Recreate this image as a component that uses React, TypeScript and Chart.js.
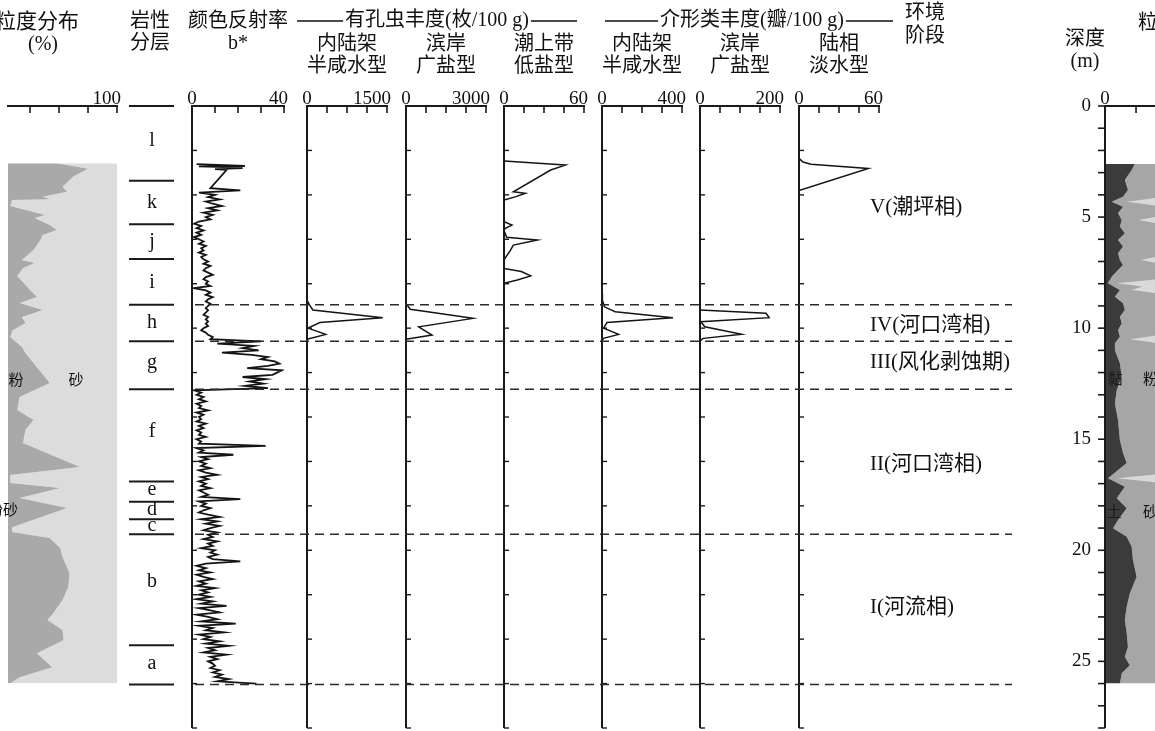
import React, { useEffect, useRef } from "react";
import { Chart, registerables } from "chart.js";

Chart.register(...registerables);

const W = 1155;
const H = 731;
const PLOT_TOP = 106;
const PLOT_BOTTOM = 728;
const DEPTH_MIN = 0;
const DEPTH_MAX = 28;
const FONT = '"Liberation Serif", "Noto Sans CJK SC", serif';
const INK = "#141414";

// ---------- depth axis ----------
const depthMajor = [0, 5, 10, 15, 20, 25];

// ---------- lithology ----------
const lithoBounds = [0, 3.36, 5.32, 6.89, 8.95, 10.59, 12.75, 16.9, 17.82, 18.6, 19.28, 24.28, 26.04];
const lithoLabels = ["l", "k", "j", "i", "h", "g", "f", "e", "d", "c", "b", "a"];
const lithoLabelDepths = [1.55, 4.37, 6.12, 7.97, 9.77, 11.58, 14.68, 17.29, 18.19, 18.91, 21.43, 25.13];

// ---------- environment stages ----------
const stageBounds = [8.95, 10.59, 12.75, 19.28, 26.04];
const stageLabels = ["V(潮坪相)", "IV(河口湾相)", "III(风化剥蚀期)", "II(河口湾相)", "I(河流相)"];
const stageLabelDepths = [4.55, 9.9, 11.53, 16.16, 22.56];

// ---------- grain size (left column, %) ----------
const grainTicks = [25, 50, 75, 100];
const grainDepths = [2.58, 2.82, 3.18, 3.63, 3.86, 4.08, 4.2, 4.23, 4.5, 4.91, 5.04, 5.36, 5.58, 5.81, 6.03, 6.48, 6.93, 7.07, 7.29, 7.65, 8.28, 8.6, 8.87, 9.18, 9.5, 9.77, 10.09, 10.4, 10.85, 11.12, 11.57, 12.47, 13.1, 13.69, 14.14, 14.59, 15.17, 16.25, 16.61, 16.97, 17.2, 17.65, 18.1, 18.96, 19.18, 19.45, 19.9, 20.31, 20.76, 21.03, 21.66, 22.24, 22.83, 23.14, 23.59, 24.04, 24.63, 25.26, 25.71, 25.98];
const grainSilt = [48, 75, 62, 53, 57, 36, 42, 9.5, 8, 38, 29, 42, 48, 36, 34, 28, 18, 29, 19, 14, 25, 31, 16, 36, 18, 21, 10, 8, 18, 21, 28, 42, 16, 14, 28, 21, 19, 68, 8, 8, 51, 16, 57, 9.5, 9.5, 42, 51, 53, 57, 59, 58, 53, 45, 40, 53, 54, 31, 44, 16, 8];

// ---------- grain size (right column, %) ----------
const rightTicks = [25];
const rClayDepths = [2.61, 2.88, 3.33, 3.78, 4.08, 4.31, 4.53, 4.83, 5.13, 5.43, 5.73, 6.03, 6.33, 6.63, 6.93, 7.16, 7.38, 7.69, 7.98, 8.28, 8.59, 8.88, 9.18, 9.49, 9.78, 10.09, 10.39, 10.68, 10.99, 11.58, 12.19, 12.79, 13.39, 14.14, 15.04, 15.62, 16.07, 16.76, 17.14, 17.66, 18.11, 18.64, 19.01, 19.39, 19.84, 20.44, 21.19, 21.94, 22.54, 23.14, 23.74, 24.34, 24.79, 25.17, 25.54, 26.0];
const rClay = [24, 21.5, 16, 18.5, 14.5, 5.4, 14.5, 10.5, 13.5, 12, 16, 10.5, 14.5, 10.5, 12, 14.5, 10.5, 5.4, 2.4, 12, 8, 14.5, 16, 12, 13.5, 10.5, 12, 8, 8, 12, 13.5, 9.5, 8, 10.5, 12, 14.5, 17.5, 2.4, 16, 9.5, 17.5, 10.5, 6.5, 17.5, 21.5, 22.5, 25.5, 20, 17.5, 16, 17.5, 18.5, 16, 20, 13.5, 12];
const rSandDepths = [2.61, 4.11, 4.31, 4.51, 4.95, 5.13, 5.31, 6.75, 6.93, 7.11, 7.78, 7.98, 8.12, 8.28, 8.45, 10.3, 10.5, 10.7, 16.56, 16.76, 16.96, 26.0];
const rSand = [45, 45, 17.5, 45, 45, 27, 45, 45, 29, 45, 45, 9.5, 30, 21.5, 45, 45, 20, 45, 45, 9.5, 45, 45];

// ---------- colour reflectance b* ----------
const bTicks = [0, 10, 20, 30, 40];
const bTopDepths = [2.62, 2.66, 2.7, 2.72, 2.76, 2.8, 2.84, 2.88];
const bTopValues = [2, 14, 23, 3, 16, 22, 10, 15];
const bStartDepth = 3.7;
const bStep = 0.1;
const bValues = [
  8, 21, 3, 10, 7, 12, 6, 9, 13, 7,
  11, 5, 9, 6, 8, 3, 1, 4, 2, 5,
  2, 4, 1, 3, 5, 3, 6, 4, 5, 3,
  6, 4, 5, 7, 5, 8, 6, 5, 7, 9,
  6, 5, 7, 6, 8, 1, 6, 8, 6, 9,
  7, 6, 8, 7, 6, 7, 6, 5, 7, 6,
  7, 6, 7, 5, 4, 6, 7, 9, 8, 30,
  11, 27, 22, 29, 13, 26, 33, 30, 36, 38,
  33, 24, 39, 37, 35, 22, 32, 25, 31, 23,
  33, 1, 4, 2, 5, 3, 6, 2, 4, 3,
  7, 2, 5, 3, 4, 2, 6, 3, 5, 2,
  4, 3, 6, 2, 4, 3, 32, 2, 5, 3,
  18, 4, 7, 3, 6, 4, 8, 3, 6, 11,
  4, 7, 3, 6, 4, 8, 3, 5, 7, 4,
  21, 3, 6, 4, 8, 5, 3, 7, 12, 4,
  11, 6, 12, 8, 5, 11, 7, 9, 5, 11,
  7, 9, 4, 10, 8, 11, 7, 9, 21, 6,
  2, 6, 3, 8, 2, 5, 9, 3, 6, 2,
  10, 4, 7, 3, 8, 2, 9, 4, 15, 3,
  8, 12, 2, 7, 11, 4, 19, 3, 9, 6,
  14, 3, 8, 5, 12, 6, 16, 7, 10, 5,
  15, 8, 11, 7, 9, 10, 8, 12, 9, 13,
  10, 16, 11, 28,
];
const bDepths = bTopDepths.concat(bValues.map((_, i) => Math.round((bStartDepth + i * bStep) * 100) / 100));
const bAll = bTopValues.concat(bValues);

// ---------- foraminifera (ind./100 g) ----------
const foramInnerTicks = [0, 375, 750, 1125, 1500];
const foramInnerDepths = [8.74, 8.96, 9.18, 9.53, 9.75, 10.0, 10.28, 10.5];
const foramInner = [0, 50, 110, 1420, 240, 20, 350, 0];
const foramCoastTicks = [0, 750, 1500, 2250, 3000];
const foramCoastDepths = [8.89, 9.15, 9.56, 9.94, 10.31, 10.5];
const foramCoast = [0, 160, 2510, 475, 975, 0];
const foramSupraTicks = [0, 15, 30, 45, 60];
const foramSupraDepths = [2.48, 2.66, 2.88, 3.86, 3.93, 4.08, 4.23, 5.21, 5.36, 5.51, 5.6, 5.91, 6.03, 6.26, 6.48, 6.93, 7.31, 7.45, 7.65, 7.83, 7.98];
const foramSupra = [0, 46, 35, 7, 16, 9, 0, 0, 6, 1, 0, 2, 25, 7, 5, 0, 0, 13, 20, 10, 0];

// ---------- ostracoda (valves/100 g) ----------
const ostraInnerTicks = [0, 100, 200, 300, 400];
const ostraInnerDepths = [8.43, 8.74, 9.04, 9.26, 9.53, 9.75, 10.0, 10.28, 10.46, 10.57];
const ostraInner = [0, 2, 12, 66, 355, 25, 8, 83, 7, 0];
const ostraCoastTicks = [0, 50, 100, 150, 200];
const ostraCoastDepths = [9.18, 9.33, 9.53, 9.71, 9.94, 10.28, 10.46, 10.57];
const ostraCoast = [0, 165, 173, 2, 12, 104, 8, 0];
const ostraFreshTicks = [0, 15, 30, 45, 60];
const ostraFreshDepths = [2.36, 2.52, 2.62, 2.81, 3.81];
const ostraFresh = [0, 3, 9, 52, 0];

// ---------- helpers ----------
const pts = (depths: number[], values: number[]) => depths.map((d, i) => ({ x: values[i], y: d }));

function trace(depths: number[], values: number[], width = 1.5) {
  return {
    data: pts(depths, values),
    borderColor: INK,
    borderWidth: width,
    pointRadius: 0,
    tension: 0,
    fill: false,
  };
}

function area(depths: number[], values: number[], color: string, to: number) {
  return {
    data: pts(depths, values),
    borderColor: "rgba(0,0,0,0)",
    borderWidth: 0,
    backgroundColor: color,
    pointRadius: 0,
    tension: 0,
    fill: { value: to },
  };
}

type PanelDef = {
  left: number;
  right: number;
  min: number;
  max: number;
  ticks: number[];
  minLabel?: string;
  maxLabel?: string;
  leftAxis: boolean;
  titles: string[];
  datasets: any[];
};

const PANELS: PanelDef[] = [
  {
    left: 8, right: 117, min: 6, max: 100, ticks: grainTicks, maxLabel: "100",
    leftAxis: false, titles: [],
    datasets: [
      area(grainDepths, grainSilt, "#a9a9a9", 6),
      area(grainDepths, grainSilt, "#dcdcdc", 100),
    ],
  },
  {
    left: 1105, right: 1155, min: 0, max: 40.3, ticks: rightTicks, minLabel: "0",
    leftAxis: false, titles: [],
    datasets: [
      area(rClayDepths, rClay, "#3b3b3b", 0),
      area(rSandDepths, rSand, "#d9d9d9", 100),
      area(rClayDepths, rClay, "#a6a6a6", 100),
    ],
  },
  {
    left: 192, right: 284, min: 0, max: 40, ticks: bTicks, minLabel: "0", maxLabel: "40",
    leftAxis: true, titles: [],
    datasets: [trace(bDepths, bAll, 1.8)],
  },
  {
    left: 307, right: 387, min: 0, max: 1500, ticks: foramInnerTicks, minLabel: "0", maxLabel: "1500",
    leftAxis: true, titles: ["内陆架", "半咸水型"],
    datasets: [trace(foramInnerDepths, foramInner)],
  },
  {
    left: 406, right: 486, min: 0, max: 3000, ticks: foramCoastTicks, minLabel: "0", maxLabel: "3000",
    leftAxis: true, titles: ["滨岸", "广盐型"],
    datasets: [trace(foramCoastDepths, foramCoast)],
  },
  {
    left: 504, right: 584, min: 0, max: 60, ticks: foramSupraTicks, minLabel: "0", maxLabel: "60",
    leftAxis: true, titles: ["潮上带", "低盐型"],
    datasets: [trace(foramSupraDepths, foramSupra)],
  },
  {
    left: 602, right: 682, min: 0, max: 400, ticks: ostraInnerTicks, minLabel: "0", maxLabel: "400",
    leftAxis: true, titles: ["内陆架", "半咸水型"],
    datasets: [trace(ostraInnerDepths, ostraInner)],
  },
  {
    left: 700, right: 780, min: 0, max: 200, ticks: ostraCoastTicks, minLabel: "0", maxLabel: "200",
    leftAxis: true, titles: ["滨岸", "广盐型"],
    datasets: [trace(ostraCoastDepths, ostraCoast)],
  },
  {
    left: 799, right: 879, min: 0, max: 60, ticks: ostraFreshTicks, minLabel: "0", maxLabel: "60",
    leftAxis: true, titles: ["陆相", "淡水型"],
    datasets: [trace(ostraFreshDepths, ostraFresh)],
  },
];

function baseOptions(left: number, right: number, min: number, max: number) {
  return {
    indexAxis: "y" as const,
    responsive: false,
    maintainAspectRatio: false,
    animation: false as const,
    events: [] as any[],
    layout: {
      autoPadding: false,
      padding: { left, right: W - right, top: PLOT_TOP, bottom: H - PLOT_BOTTOM },
    },
    scales: {
      x: { type: "linear" as const, min, max, display: false },
      y: { type: "linear" as const, min: DEPTH_MIN, max: DEPTH_MAX, reverse: true, display: false },
    },
    plugins: { legend: { display: false }, tooltip: { enabled: false } },
  };
}

function panelPlugin(p: PanelDef) {
  return {
    id: "panelAxes",
    afterDraw(chart: any) {
      const ctx = chart.ctx as CanvasRenderingContext2D;
      const xs = chart.scales.x;
      const ys = chart.scales.y;
      const top = ys.getPixelForValue(DEPTH_MIN);
      const bottom = ys.getPixelForValue(DEPTH_MAX);
      const x0 = xs.getPixelForValue(p.min);
      const x1 = Math.min(xs.getPixelForValue(p.max), W);
      ctx.save();
      ctx.strokeStyle = "#1a1a1a";
      ctx.lineWidth = 2;
      ctx.beginPath();
      ctx.moveTo(x0 - 1, top);
      ctx.lineTo(x1 + 1, top);
      ctx.stroke();
      ctx.lineWidth = 1.6;
      p.ticks.forEach((t) => {
        const x = xs.getPixelForValue(t);
        ctx.beginPath();
        ctx.moveTo(x, top);
        ctx.lineTo(x, top + 7);
        ctx.stroke();
      });
      if (p.leftAxis) {
        ctx.lineWidth = 2;
        ctx.beginPath();
        ctx.moveTo(x0, top - 1);
        ctx.lineTo(x0, bottom);
        ctx.stroke();
        ctx.lineWidth = 1.4;
        for (let d = DEPTH_MIN + 2; d <= DEPTH_MAX; d += 2) {
          const y = ys.getPixelForValue(d);
          ctx.beginPath();
          ctx.moveTo(x0, y);
          ctx.lineTo(x0 + 5, y);
          ctx.stroke();
        }
      }
      ctx.fillStyle = "#111";
      ctx.font = `19px ${FONT}`;
      ctx.textBaseline = "alphabetic";
      if (p.minLabel) {
        ctx.textAlign = "center";
        ctx.fillText(p.minLabel, x0, 104);
      }
      if (p.maxLabel) {
        ctx.textAlign = "right";
        ctx.fillText(p.maxLabel, xs.getPixelForValue(p.max) + 4, 104);
      }
      if (p.titles.length) {
        ctx.font = `20px ${FONT}`;
        ctx.textAlign = "center";
        ctx.textBaseline = "middle";
        const cx = (x0 + xs.getPixelForValue(p.max)) / 2;
        p.titles.forEach((t, i) => ctx.fillText(t, cx, 45 + i * 22));
      }
      ctx.restore();
    },
  };
}

function text(ctx: CanvasRenderingContext2D, s: string, x: number, y: number, align: CanvasTextAlign = "center", size = 20, color = "#111") {
  ctx.font = `${size}px ${FONT}`;
  ctx.fillStyle = color;
  ctx.textAlign = align;
  ctx.textBaseline = "middle";
  ctx.fillText(s, x, y);
}

function dashedTitle(ctx: CanvasRenderingContext2D, s: string, cx: number, y: number, from: number, to: number) {
  ctx.font = `20px ${FONT}`;
  const w = ctx.measureText(s).width;
  text(ctx, s, cx, y);
  ctx.strokeStyle = "#111";
  ctx.lineWidth = 1.3;
  ctx.beginPath();
  ctx.moveTo(from, y);
  ctx.lineTo(cx - w / 2 - 2, y);
  ctx.moveTo(cx + w / 2 + 2, y);
  ctx.lineTo(to, y);
  ctx.stroke();
}

const framePlugin = {
  id: "frame",
  afterDraw(chart: any) {
    const ctx = chart.ctx as CanvasRenderingContext2D;
    const ys = chart.scales.y;
    ctx.save();

    // lithology column
    ctx.strokeStyle = "#1a1a1a";
    ctx.lineWidth = 2;
    lithoBounds.forEach((d) => {
      const y = ys.getPixelForValue(d);
      ctx.beginPath();
      ctx.moveTo(129, y);
      ctx.lineTo(174, y);
      ctx.stroke();
    });
    lithoLabels.forEach((t, i) => text(ctx, t, 152, ys.getPixelForValue(lithoLabelDepths[i])));

    // stage boundaries
    ctx.strokeStyle = "#2a2a2a";
    ctx.lineWidth = 1.6;
    ctx.setLineDash([9, 6]);
    stageBounds.forEach((d) => {
      const y = ys.getPixelForValue(d);
      ctx.beginPath();
      ctx.moveTo(195, y);
      ctx.lineTo(1012, y);
      ctx.stroke();
    });
    ctx.setLineDash([]);
    stageLabels.forEach((t, i) => text(ctx, t, 870, ys.getPixelForValue(stageLabelDepths[i]), "left", 21));

    // depth axis
    const ax = 1105;
    ctx.strokeStyle = "#1a1a1a";
    ctx.lineWidth = 2;
    ctx.beginPath();
    ctx.moveTo(ax, ys.getPixelForValue(DEPTH_MIN) - 1);
    ctx.lineTo(ax, ys.getPixelForValue(DEPTH_MAX));
    ctx.stroke();
    ctx.lineWidth = 1.6;
    for (let d = DEPTH_MIN; d <= DEPTH_MAX; d += 1) {
      const y = ys.getPixelForValue(d);
      ctx.beginPath();
      ctx.moveTo(ax - 7, y);
      ctx.lineTo(ax, y);
      ctx.stroke();
    }
    depthMajor.forEach((d) => text(ctx, String(d), 1091, ys.getPixelForValue(d), "right", 19));

    // headers
    text(ctx, "粒度分布", 79, 22, "right", 21);
    text(ctx, "(%)", 43, 45);
    text(ctx, "岩性", 150, 22);
    text(ctx, "分层", 150, 44);
    text(ctx, "颜色反射率", 238, 22);
    text(ctx, "b*", 238, 44);
    dashedTitle(ctx, "有孔虫丰度(枚/100 g)", 437, 21, 297, 577);
    dashedTitle(ctx, "介形类丰度(瓣/100 g)", 752, 21, 605, 893);
    text(ctx, "环境", 925, 14);
    text(ctx, "阶段", 925, 37);
    text(ctx, "深度", 1085, 40);
    text(ctx, "(m)", 1085, 62);
    text(ctx, "粒度分布", 1138, 24, "left");

    // grain-size labels
    text(ctx, "粉", 16, 381, "center", 15);
    text(ctx, "砂", 76, 381, "center", 15);
    text(ctx, "粉砂", 18, 511, "right", 15);
    text(ctx, "黏", 1115, 380, "center", 15, "#1c1c1c");
    text(ctx, "粉砂", 1143, 380, "left", 15);
    text(ctx, "土", 1114, 513, "center", 15, "#1c1c1c");
    text(ctx, "砂", 1143, 513, "left", 15);

    ctx.restore();
  },
};

export default function App() {
  const refs = useRef<(HTMLCanvasElement | null)[]>([]);

  useEffect(() => {
    const charts: Chart[] = [];
    PANELS.forEach((p, i) => {
      const c = refs.current[i];
      if (!c) return;
      charts.push(
        new Chart(c, {
          type: "line",
          data: { datasets: p.datasets },
          options: baseOptions(p.left, p.right, p.min, p.max) as any,
          plugins: [panelPlugin(p)],
        })
      );
    });
    const fc = refs.current[PANELS.length];
    if (fc) {
      charts.push(
        new Chart(fc, {
          type: "line",
          data: { datasets: [] },
          options: baseOptions(0, W, 0, W) as any,
          plugins: [framePlugin],
        })
      );
    }
    return () => charts.forEach((c) => c.destroy());
  }, []);

  const n = PANELS.length + 1;
  return (
    <div style={{ position: "absolute", left: 0, top: 0, width: W, height: H, overflow: "hidden", background: "#fff" }}>
      {Array.from({ length: n }).map((_, i) => (
        <canvas
          key={i}
          ref={(el) => {
            refs.current[i] = el;
          }}
          width={W}
          height={H}
          style={{ position: "absolute", left: 0, top: 0, width: W, height: H }}
        />
      ))}
    </div>
  );
}
